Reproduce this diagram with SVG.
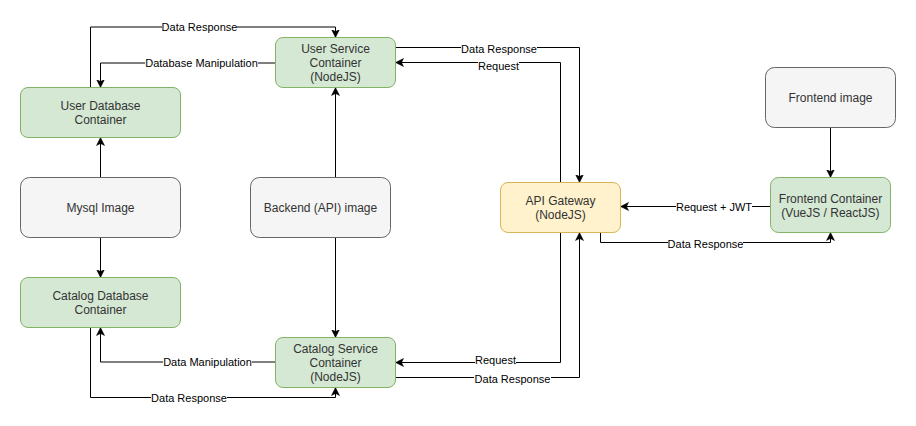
<svg xmlns="http://www.w3.org/2000/svg" width="916" height="426" viewBox="0 0 916 426">
<style>
.node text{font-family:"Liberation Sans",Arial,sans-serif;font-size:12px;fill:#333333;text-anchor:middle}
.green{fill:#d5e8d4;stroke:#82b366;stroke-width:1}
.gray{fill:#f5f5f5;stroke:#666666;stroke-width:1}
.yellow{fill:#fff2cc;stroke:#d6b656;stroke-width:1}
.edge{fill:none;stroke:#000;stroke-width:1;marker-end:url(#arr)}
.lbg{fill:#fff}
.lbl{font-family:"Liberation Sans",Arial,sans-serif;font-size:11px;fill:#000;text-anchor:middle}
</style>
<defs>
<marker id="arr" markerUnits="userSpaceOnUse" markerWidth="10" markerHeight="10" refX="8" refY="4" orient="auto" viewBox="0 0 10 8">
<path d="M0,0 L8,4 L0,8 L2,4 z" fill="#000" stroke="#000" stroke-width="0.5"/>
</marker>
</defs>
<rect width="916" height="426" fill="#fff"/>
<g id="connectors">
<path class="edge" d="M90.5,87.5 V27 H335.5 V37.5"/>
<path class="edge" d="M275.5,63 H100.5 V87.5"/>
<path class="edge" d="M100.5,177.5 V137.5"/>
<path class="edge" d="M100.5,237.5 V277.5"/>
<path class="edge" d="M335.5,177.5 V87.5"/>
<path class="edge" d="M335.5,237.5 V337.5"/>
<path class="edge" d="M275.5,362 H100.5 V327.5"/>
<path class="edge" d="M90.5,327.5 V397.5 H335.5 V387.5"/>
<path class="edge" d="M395.5,47.5 H579.5 V182.5"/>
<path class="edge" d="M560.5,182.5 V62.5 H395.5"/>
<path class="edge" d="M560.5,232.5 V362.5 H395.5"/>
<path class="edge" d="M395.5,377.5 H579.5 V232.5"/>
<path class="edge" d="M770.5,206.5 H620.5"/>
<path class="edge" d="M600.5,232.5 V242.5 H830.5 V232.5"/>
<path class="edge" d="M830.5,127.5 V177.5"/>
<rect class="lbg" x="162" y="21" width="75" height="12"/>
<text class="lbl" x="199.5" y="31">Data Response</text>
<rect class="lbg" x="145" y="57" width="113" height="12"/>
<text class="lbl" x="201.5" y="67">Database Manipulation</text>
<rect class="lbg" x="163" y="356" width="89" height="12"/>
<text class="lbl" x="207.5" y="366">Data Manipulation</text>
<rect class="lbg" x="151" y="392" width="76" height="12"/>
<text class="lbl" x="189" y="402">Data Response</text>
<rect class="lbg" x="461" y="43" width="76" height="12"/>
<text class="lbl" x="499" y="53">Data Response</text>
<rect class="lbg" x="478" y="60" width="41" height="12"/>
<text class="lbl" x="498.5" y="70">Request</text>
<rect class="lbg" x="475" y="354" width="41" height="12"/>
<text class="lbl" x="495.5" y="364">Request</text>
<rect class="lbg" x="474" y="373" width="77" height="12"/>
<text class="lbl" x="512.5" y="383">Data Response</text>
<rect class="lbg" x="676" y="201" width="76" height="12"/>
<text class="lbl" x="714" y="211">Request + JWT</text>
<rect class="lbg" x="668" y="238" width="75" height="12"/>
<text class="lbl" x="705.5" y="248">Data Response</text>
</g>
<g id="user-db" class="node">
<rect class="green" x="20.5" y="87.5" width="160" height="50" rx="7.5"/>
<text x="100.5" y="110">User Database</text>
<text x="100.5" y="124">Container</text>
</g>
<g id="user-service" class="node">
<rect class="green" x="275.5" y="37.5" width="120" height="50" rx="7.5"/>
<text x="335.5" y="53">User Service</text>
<text x="335.5" y="67">Container</text>
<text x="335.5" y="81">(NodeJS)</text>
</g>
<g id="mysql-image" class="node">
<rect class="gray" x="20.5" y="177.5" width="160" height="60" rx="9"/>
<text x="100.5" y="211.5">Mysql Image</text>
</g>
<g id="backend-image" class="node">
<rect class="gray" x="250.5" y="177.5" width="140" height="60" rx="9"/>
<text x="320.5" y="211.5">Backend (API) image</text>
</g>
<g id="catalog-db" class="node">
<rect class="green" x="20.5" y="277.5" width="160" height="50" rx="7.5"/>
<text x="100.5" y="300">Catalog Database</text>
<text x="100.5" y="314">Container</text>
</g>
<g id="catalog-service" class="node">
<rect class="green" x="275.5" y="337.5" width="120" height="50" rx="7.5"/>
<text x="335.5" y="352.5">Catalog Service</text>
<text x="335.5" y="366.5">Container</text>
<text x="335.5" y="380.5">(NodeJS)</text>
</g>
<g id="api-gateway" class="node">
<rect class="yellow" x="500.5" y="182.5" width="120" height="50" rx="7.5"/>
<text x="560.5" y="205">API Gateway</text>
<text x="560.5" y="219">(NodeJS)</text>
</g>
<g id="frontend-image" class="node">
<rect class="gray" x="765.5" y="67.5" width="130" height="60" rx="9"/>
<text x="830.5" y="101.5">Frontend image</text>
</g>
<g id="frontend-container" class="node">
<rect class="green" x="770.5" y="177.5" width="120" height="55" rx="8"/>
<text x="830.5" y="202.5">Frontend Container</text>
<text x="830.5" y="216.5">(VueJS / ReactJS)</text>
</g>
</svg>
